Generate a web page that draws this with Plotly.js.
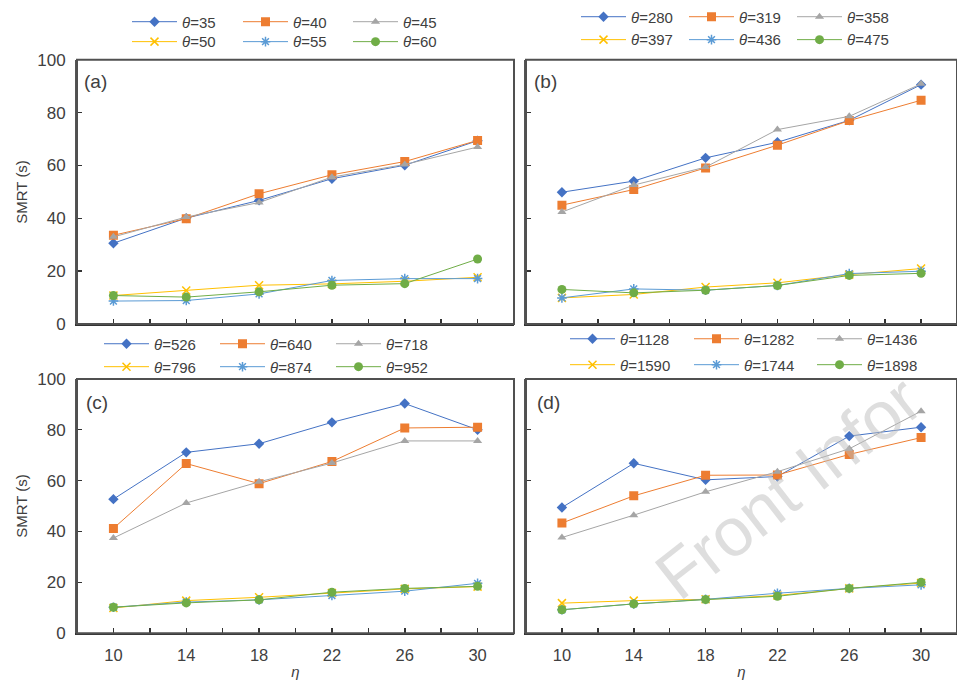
<!DOCTYPE html>
<html>
<head>
<meta charset="utf-8">
<script src="https://cdn.plot.ly/plotly-3.0.1.min.js"></script>
<style>html,body{margin:0;padding:0;background:#fff;}#chart{width:957px;height:682px;}</style>
</head>
<body>
<div id="chart"></div>
<script>
// x values (eta)
const eta = [10, 14, 18, 22, 26, 30];

// theta labels per panel
const thetaA = [35, 40, 45, 50, 55, 60];
const thetaB = [280, 319, 358, 397, 436, 475];
const thetaC = [526, 640, 718, 796, 874, 952];
const thetaD = [1128, 1282, 1436, 1590, 1744, 1898];

// Panel (a) SMRT (s)
const a1 = [30.6, 40.1, 46.8, 55.0, 60.1, 69.4];
const a2 = [33.6, 39.9, 49.3, 56.5, 61.5, 69.5];
const a3 = [33.0, 40.5, 46.0, 55.6, 60.4, 67.0];
const a4 = [10.8, 12.7, 14.7, 15.2, 16.2, 17.7];
const a5 = [8.7, 8.9, 11.4, 16.5, 17.2, 17.2];
const a6 = [10.8, 10.2, 12.2, 14.7, 15.3, 24.6];

// Panel (b)
const b1 = [49.9, 54.1, 62.9, 68.8, 77.1, 90.6];
const b2 = [45.0, 50.9, 59.1, 67.7, 77.0, 84.7];
const b3 = [42.4, 52.6, 59.4, 73.6, 78.6, 90.9];
const b4 = [9.9, 11.2, 14.0, 15.6, 18.7, 21.0];
const b5 = [9.9, 13.3, 12.8, 14.6, 19.1, 20.0];
const b6 = [13.1, 11.8, 12.8, 14.6, 18.4, 19.2];

// Panel (c)
const c1 = [52.7, 71.1, 74.5, 82.9, 90.3, 80.0];
const c2 = [41.2, 66.7, 58.8, 67.5, 80.7, 81.0];
const c3 = [37.4, 51.2, 59.5, 66.9, 75.6, 75.6];
const c4 = [9.9, 12.8, 14.1, 15.8, 17.4, 18.3];
const c5 = [10.2, 12.2, 13.1, 14.8, 16.5, 19.6];
const c6 = [10.2, 11.9, 13.1, 16.1, 17.6, 18.4];

// Panel (d)
const d1 = [49.4, 66.8, 60.3, 61.6, 77.5, 81.0];
const d2 = [43.3, 54.0, 62.1, 62.2, 70.3, 76.9];
const d3 = [37.6, 46.4, 55.6, 63.5, 72.5, 87.3];
const d4 = [11.8, 12.8, 13.3, 14.8, 17.6, 19.7];
const d5 = [9.2, 11.5, 13.3, 15.7, 17.6, 19.0];
const d6 = [9.2, 11.5, 13.2, 14.5, 17.6, 20.0];

const colors = ['#4472C4', '#ED7D31', '#A5A5A5', '#FFC000', '#5B9BD5', '#70AD47'];
const symbols = ['diamond', 'square', 'triangle-up', 'x-thin-open', 'asterisk-open', 'circle'];
const msizes = [8, 9, 8, 8, 8, 9];

const FONT = 'Liberation Sans, Arial, sans-serif';
const TXT = '#404040';
const W = 957, H = 682;
const px = v => v / W;
const py = v => 1 - v / H;

// legend placement per panel: text start x per column, row y
const legCols = {a: [177, 288, 398], b: [626, 734, 842], c: [149, 265, 381], d: [615, 739, 862]};
const legRows = {a: [20, 40], b: [15, 38], c: [343, 366], d: [338, 364]};

const layout = {
  width: W, height: H,
  margin: {l: 0, r: 0, t: 0, b: 0},
  paper_bgcolor: '#fff', plot_bgcolor: 'rgba(0,0,0,0)',
  showlegend: true
};

let legCount = 0;
function makeTraces(vals, thetas, ax, key) {
  return vals.map((v, i) => {
    legCount++;
    const lname = legCount === 1 ? 'legend' : 'legend' + legCount;
    const col = i % 3, row = Math.floor(i / 3);
    layout[lname] = {
      x: px(legCols[key][col] - 50), y: py(legRows[key][row]),
      xanchor: 'left', yanchor: 'middle', orientation: 'h', itemwidth: 45,
      bgcolor: 'rgba(0,0,0,0)', borderwidth: 0,
      font: {family: FONT, size: 15, color: TXT}
    };
    return {
      x: eta, y: v, type: 'scatter', mode: 'lines+markers',
      name: '<i>θ</i>=' + thetas[i],
      xaxis: 'x' + ax, yaxis: 'y' + ax,
      legend: lname,
      line: {color: colors[i], width: 1},
      marker: {symbol: symbols[i], size: msizes[i], color: colors[i],
               line: {color: colors[i], width: (i === 3 || i === 4) ? 1.5 : 0}}
    };
  });
}

const data = [].concat(
  makeTraces([a1, a2, a3, a4, a5, a6], thetaA, '', 'a'),
  makeTraces([b1, b2, b3, b4, b5, b6], thetaB, '2', 'b'),
  makeTraces([c1, c2, c3, c4, c5, c6], thetaC, '3', 'c'),
  makeTraces([d1, d2, d3, d4, d5, d6], thetaD, '4', 'd')
);

function xax(domain, anchor, labels) {
  return {
    domain: domain, anchor: anchor, range: [8, 32],
    tickmode: 'array', tickvals: [10, 12, 14, 16, 18, 20, 22, 24, 26, 28, 30],
    ticktext: labels ? ['10', '', '14', '', '18', '', '22', '', '26', '', '30'] : Array(11).fill(''),
    ticks: 'inside', ticklen: 5, tickwidth: 1.5, tickcolor: '#333',
    showline: true, linecolor: '#333', linewidth: 2, mirror: false,
    showgrid: false, zeroline: false,
    tickfont: {family: FONT, size: 16.5, color: TXT},
    ticklabelstandoff: 6,
    title: labels ? {text: '<i>η</i>', font: {family: FONT, size: 15, color: TXT}, standoff: 4} : {text: ''}
  };
}
function yax(domain, anchor, labels) {
  return {
    domain: domain, anchor: anchor, range: [0, 100],
    tickvals: [0, 20, 40, 60, 80, 100],
    showticklabels: labels,
    ticks: 'inside', ticklen: 5, tickwidth: 1.5, tickcolor: '#333',
    showline: true, linecolor: '#555', linewidth: 2, mirror: false,
    showgrid: false, zeroline: false,
    tickfont: {family: FONT, size: 17, color: TXT},
    ticklabelstandoff: 6,
    title: labels ? {text: 'SMRT (s)', font: {family: FONT, size: 15, color: TXT}, standoff: 6} : {text: ''}
  };
}

const dxA = [px(77), px(514)], dxB = [px(526), 1.0];
const dyTop = [py(323), py(58)], dyBot = [py(633), py(378)];

Object.assign(layout, {
  xaxis: xax(dxA, 'y', false), yaxis: yax(dyTop, 'x', true),
  xaxis2: xax(dxB, 'y2', false), yaxis2: yax(dyTop, 'x2', false),
  xaxis3: xax(dxA, 'y3', true), yaxis3: yax(dyBot, 'x3', true),
  xaxis4: xax(dxB, 'y4', true), yaxis4: yax(dyBot, 'x4', false)
});

const frameCol = '#505050';
layout.shapes = [
  {type: 'rect', xref: 'paper', yref: 'paper', x0: dxA[0], x1: dxA[1], y0: dyTop[0], y1: dyTop[1], line: {color: frameCol, width: 2}},
  {type: 'rect', xref: 'paper', yref: 'paper', x0: dxB[0], x1: dxB[1], y0: dyTop[0], y1: dyTop[1], line: {color: frameCol, width: 2}},
  {type: 'rect', xref: 'paper', yref: 'paper', x0: dxA[0], x1: dxA[1], y0: dyBot[0], y1: dyBot[1], line: {color: frameCol, width: 2}},
  {type: 'rect', xref: 'paper', yref: 'paper', x0: dxB[0], x1: dxB[1], y0: dyBot[0], y1: dyBot[1], line: {color: frameCol, width: 2}}
];
layout.annotations = [
  {text: '(a)', xref: 'paper', yref: 'paper', x: px(82), y: py(80), xanchor: 'left', yanchor: 'middle', showarrow: false, font: {family: FONT, size: 19, color: TXT}},
  {text: '(b)', xref: 'paper', yref: 'paper', x: px(532), y: py(80), xanchor: 'left', yanchor: 'middle', showarrow: false, font: {family: FONT, size: 19, color: TXT}},
  {text: '(c)', xref: 'paper', yref: 'paper', x: px(84), y: py(402), xanchor: 'left', yanchor: 'middle', showarrow: false, font: {family: FONT, size: 19, color: TXT}},
  {text: '(d)', xref: 'paper', yref: 'paper', x: px(535), y: py(402), xanchor: 'left', yanchor: 'middle', showarrow: false, font: {family: FONT, size: 19, color: TXT}},
  {text: 'Front Infor', xref: 'paper', yref: 'paper', x: px(638), y: py(616), xanchor: 'left', yanchor: 'bottom', showarrow: false, textangle: -38, font: {family: FONT, size: 68, color: 'rgba(190,190,190,0.5)'}}
];

Plotly.newPlot('chart', data, layout, {staticPlot: true, displayModeBar: false});
</script>
</body>
</html>
